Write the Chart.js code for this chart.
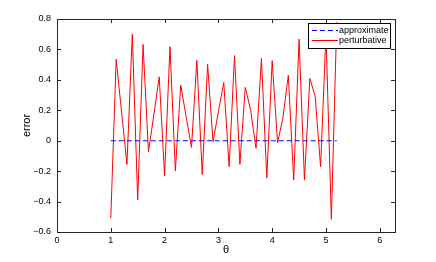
<!DOCTYPE html>
<html>
<head>
<meta charset="utf-8">
<script src="https://cdn.jsdelivr.net/npm/chart.js@4/dist/chart.umd.min.js"></script>
<style>
  html, body { margin: 0; padding: 0; background: #fff; }
  #grafica { display: block; }
</style>
</head>
<body>
<canvas id="grafica" width="436" height="262"></canvas>
<script>
// theta values (x) and the two series
const theta = [1.0, 1.1, 1.2, 1.3, 1.4, 1.5, 1.6, 1.7, 1.8, 1.9,
  2.0, 2.1, 2.2, 2.3, 2.4, 2.5, 2.6, 2.7, 2.8, 2.9,
  3.0, 3.1, 3.2, 3.3, 3.4, 3.5, 3.6, 3.7, 3.8, 3.9,
  4.0, 4.1, 4.2, 4.3, 4.4, 4.5, 4.6, 4.7, 4.8, 4.9,
  5.0, 5.1, 5.2];
const perturbative = [-0.51, 0.535, 0.19, -0.156, 0.70, -0.39, 0.633, -0.073, 0.17, 0.42,
  -0.231, 0.618, -0.198, 0.366, 0.16, -0.044, 0.528, -0.222, 0.502, -0.007,
  0.19, 0.383, -0.171, 0.559, -0.156, 0.351, 0.2, -0.05, 0.541, -0.244,
  0.526, -0.014, 0.15, 0.43, -0.259, 0.668, -0.259, 0.41, 0.289, -0.171,
  0.70, -0.516, 0.78];
const approximate = [0, 0, 0, 0, 0, 0, 0, 0, 0, 0,
  0, 0, 0, 0, 0, 0, 0, 0, 0, 0,
  0, 0, 0, 0, 0, 0, 0, 0, 0, 0,
  0, 0, 0, 0, 0, 0, 0, 0, 0, 0,
  0, 0, 0];
const xTicks = [0, 1, 2, 3, 4, 5, 6];
const yTicks = [-0.6, -0.4, -0.2, 0, 0.2, 0.4, 0.6, 0.8];
const xMin = 0, xMax = 2 * Math.PI;
const yMin = -0.6, yMax = 0.8;

const fuente = '"Liberation Sans", Arial, Helvetica, sans-serif';

function formatoY(v) {
  if (Math.abs(v) < 1e-9) return '0';
  const s = (Math.round(v * 10) / 10).toFixed(1);
  return s.replace('-', '\u2212');
}

// box around the axes with inward ticks, MATLAB style
const marcoEjes = {
  id: 'marcoEjes',
  afterDatasetsDraw(chart) {
    const { ctx, chartArea: a, scales } = chart;
    ctx.save();
    ctx.strokeStyle = '#262626';
    ctx.lineWidth = 1;
    ctx.beginPath();
    xTicks.forEach(v => {
      const px = Math.round(scales.x.getPixelForValue(v)) + 0.5;
      ctx.moveTo(px, a.bottom); ctx.lineTo(px, a.bottom - 4);
      ctx.moveTo(px, a.top); ctx.lineTo(px, a.top + 4);
    });
    yTicks.forEach(v => {
      const py = Math.round(scales.y.getPixelForValue(v)) + 0.5;
      ctx.moveTo(a.left, py); ctx.lineTo(a.left + 4, py);
      ctx.moveTo(a.right, py); ctx.lineTo(a.right - 4, py);
    });
    ctx.stroke();
    ctx.strokeRect(Math.round(a.left) + 0.5, Math.round(a.top) + 0.5,
      Math.round(a.right - a.left), Math.round(a.bottom - a.top));

    // Legend inside the top right corner
    const lx = 308, ly = 23, lw = 82, lh = 25;
    ctx.fillStyle = '#fff';
    ctx.fillRect(lx, ly, lw, lh);
    ctx.strokeStyle = '#000';
    ctx.strokeRect(lx + 0.5, ly + 0.5, lw, lh);
    const entradas = chart.data.datasets;
    ctx.font = '9px ' + fuente;
    ctx.textBaseline = 'middle';
    entradas.forEach((ds, i) => {
      const yy = ly + 7.5 + i * 10;
      ctx.strokeStyle = ds.borderColor;
      ctx.lineWidth = 1;
      ctx.setLineDash(ds.borderDash || []);
      ctx.beginPath();
      ctx.moveTo(lx + 4, yy); ctx.lineTo(lx + 30, yy);
      ctx.stroke();
      ctx.setLineDash([]);
      ctx.fillStyle = '#000';
      ctx.fillText(ds.label, lx + 31, yy);
    });
    ctx.restore();
  }
};

const ctxGrafica = document.getElementById('grafica');
new Chart(ctxGrafica, {
  type: 'line',
  data: {
    datasets: [
      {
        label: 'approximate',
        data: theta.map((t, i) => ({ x: t, y: approximate[i] })),
        borderColor: '#0000ff',
        borderWidth: 1,
        borderDash: [5, 3],
        pointRadius: 0,
        fill: false,
        tension: 0
      },
      {
        label: 'perturbative',
        data: theta.map((t, i) => ({ x: t, y: perturbative[i] })),
        borderColor: '#ff0000',
        borderWidth: 1,
        pointRadius: 0,
        fill: false,
        tension: 0
      }
    ]
  },
  options: {
    responsive: false,
    animation: false,
    layout: { padding: { left: 20, right: 41, top: 19, bottom: 5 } },
    plugins: {
      legend: { display: false },
      tooltip: { enabled: false }
    },
    scales: {
      x: {
        type: 'linear',
        min: xMin,
        max: xMax,
        afterBuildTicks: s => { s.ticks = xTicks.map(v => ({ value: v })); },
        afterFit: s => { s.height = 25; },
        grid: { display: false, drawTicks: false },
        border: { display: false },
        ticks: {
          color: '#000',
          padding: 3,
          maxRotation: 0,
          font: { family: fuente, size: 9 },
          callback: v => String(v)
        },
        title: {
          display: true,
          text: 'θ',
          color: '#000',
          padding: 0,
          font: { family: fuente, size: 11 }
        }
      },
      y: {
        type: 'linear',
        min: yMin,
        max: yMax,
        afterBuildTicks: s => { s.ticks = yTicks.map(v => ({ value: v })); },
        afterFit: s => { s.width = 37; },
        grid: { display: false, drawTicks: false },
        border: { display: false },
        ticks: {
          color: '#000',
          padding: 6,
          font: { family: fuente, size: 9 },
          callback: v => formatoY(v)
        },
        title: {
          display: true,
          text: 'error',
          color: '#000',
          padding: 0,
          font: { family: fuente, size: 11 }
        }
      }
    }
  },
  plugins: [marcoEjes]
});
</script>
</body>
</html>
